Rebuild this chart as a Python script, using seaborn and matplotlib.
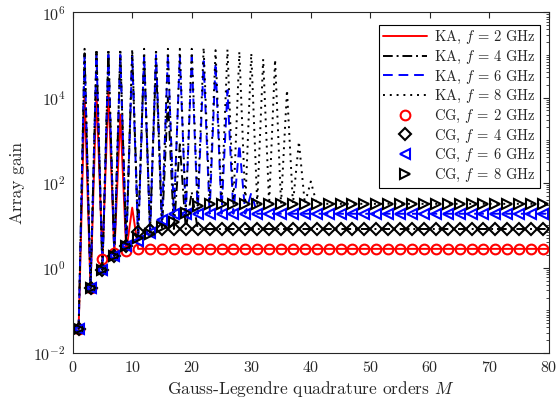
import matplotlib
matplotlib.use('Agg')
import matplotlib.pyplot as plt
import seaborn as sns
from matplotlib.ticker import LogLocator, NullFormatter, FixedLocator

# 样式
sns.set_theme(style='white')
plt.rcParams['font.family'] = 'serif'
plt.rcParams['font.serif'] = ['cmr10']
plt.rcParams['mathtext.fontset'] = 'cm'
plt.rcParams['axes.formatter.use_mathtext'] = True
plt.rcParams['axes.unicode_minus'] = False

# KA: M = 1..80
orders_ka = list(range(1, 81))
ka_2ghz = [0.036, 1.2e4, 0.33, 1.5e4, 1.6, 1.5e4, 2.2, 4.0e3, 2.5, 26] + [2.8] * 70
ka_4ghz = [0.036, 1.1e5, 0.33, 1.1e5, 0.89, 1.1e5, 1.9, 1.1e5, 3.3, 1.0e5,
           7.1, 9.0e4, 7.8, 7.0e4, 8.2, 1.0e4, 8.2, 800, 8.2, 60] + [8.2] * 60
ka_6ghz = [0.036, 1.0e5, 0.33, 1.0e5, 0.89, 1.0e5, 1.9, 1.0e5, 3.3, 1.0e5,
           4.2, 1.0e5, 6.6, 1.0e5, 13.5, 1.0e5, 18.7, 9.5e4, 18.7, 9.0e4,
           18.7, 7.2e4, 18.7, 6.5e4, 18.7, 1.5e4, 18.7, 780, 18.7, 58] + [18.7] * 50
ka_8ghz = [0.036, 1.4e5, 0.33, 1.4e5, 0.89, 1.4e5, 1.9, 1.4e5, 3.3, 1.4e5,
           5.0, 1.4e5, 6.2, 1.4e5, 9.0, 1.4e5, 12, 1.4e5, 20, 1.4e5,
           29, 1.5e5, 32, 1.3e5, 32, 1.35e5, 32, 1.2e5, 32, 1.1e5,
           32, 8.0e4, 32, 7.8e4, 32, 1.5e4, 32, 930, 32, 107] + [32] * 40

# CG: odd M = 1..79
orders_cg = list(range(1, 80, 2))
cg_2ghz = [0.036, 0.33, 1.6, 2.2, 2.5] + [2.8] * 35
cg_4ghz = [0.036, 0.33, 0.89, 1.9, 3.3, 7.1, 7.8] + [8.2] * 33
cg_6ghz = [0.036, 0.33, 0.89, 1.9, 3.3, 4.2, 6.6, 13.5] + [18.7] * 32
cg_8ghz = [0.036, 0.33, 0.89, 1.9, 3.3, 5.0, 6.2, 9.0, 12, 20, 29] + [32] * 29

fig = plt.figure(figsize=(5.59, 4.03), dpi=100)
ax = fig.add_axes([0.130, 0.124, 0.852, 0.845])

lw = 1.4
sns.lineplot(x=orders_ka, y=ka_2ghz, ax=ax, color='red', lw=lw, linestyle='-',
             errorbar=None, sort=False, label=r'KA, $f$ = 2 GHz')
sns.lineplot(x=orders_ka, y=ka_4ghz, ax=ax, color='black', lw=lw, linestyle=(0, (5, 2, 1, 2)),
             errorbar=None, sort=False, label=r'KA, $f$ = 4 GHz')
sns.lineplot(x=orders_ka, y=ka_6ghz, ax=ax, color='blue', lw=lw, linestyle=(0, (5, 3)),
             errorbar=None, sort=False, label=r'KA, $f$ = 6 GHz')
sns.lineplot(x=orders_ka, y=ka_8ghz, ax=ax, color='black', lw=lw, linestyle=(0, (1, 2.5)),
             errorbar=None, sort=False, label=r'KA, $f$ = 8 GHz')

mk = dict(linestyle='none', mfc='none', mew=1.5, ms=7, errorbar=None, sort=False)
sns.lineplot(x=orders_cg, y=cg_2ghz, ax=ax, color='red', marker='o', mec='red',
             label=r'CG, $f$ = 2 GHz', **mk)
sns.lineplot(x=orders_cg, y=cg_4ghz, ax=ax, color='black', marker='D', mec='black',
             label=r'CG, $f$ = 4 GHz', **{**mk, 'ms': 6})
sns.lineplot(x=orders_cg, y=cg_6ghz, ax=ax, color='blue', marker='<', mec='blue',
             label=r'CG, $f$ = 6 GHz', **mk)
sns.lineplot(x=orders_cg, y=cg_8ghz, ax=ax, color='black', marker='>', mec='black',
             label=r'CG, $f$ = 8 GHz', **mk)

ax.set_yscale('log')
ax.set_xlim(0, 80)
ax.set_ylim(1e-2, 1e6)
ax.xaxis.set_major_locator(FixedLocator(range(0, 81, 10)))
ax.yaxis.set_major_locator(LogLocator(base=100))
ax.yaxis.set_minor_locator(LogLocator(base=10, subs=range(1, 10), numticks=20))
ax.yaxis.set_minor_formatter(NullFormatter())

for s in ax.spines.values():
    s.set_color('#262626')
    s.set_linewidth(0.8)
ax.tick_params(which='both', direction='in', top=True, right=True, colors='#262626',
               labelcolor='#262626', labelsize=11.5)
ax.tick_params(which='major', length=4.5, width=0.8, pad=5)
ax.tick_params(which='minor', length=2.5, width=0.6)
ax.tick_params(axis='x', which='minor', bottom=False, top=False)

ax.set_xlabel(r'Gauss-Legendre quadrature orders $M$', fontsize=12.5, color='#262626', labelpad=3)
ax.set_ylabel('Array gain', fontsize=12.5, color='#262626', labelpad=6)

leg = ax.legend(loc='upper right', bbox_to_anchor=(0.982, 0.964), borderaxespad=0,
                fontsize=10.5, handlelength=3.0, handletextpad=0.5, labelspacing=0.18,
                fancybox=False, framealpha=1, edgecolor='black', borderpad=0.3)
leg.get_frame().set_linewidth(0.8)

fig.savefig('out.png', dpi=100)
